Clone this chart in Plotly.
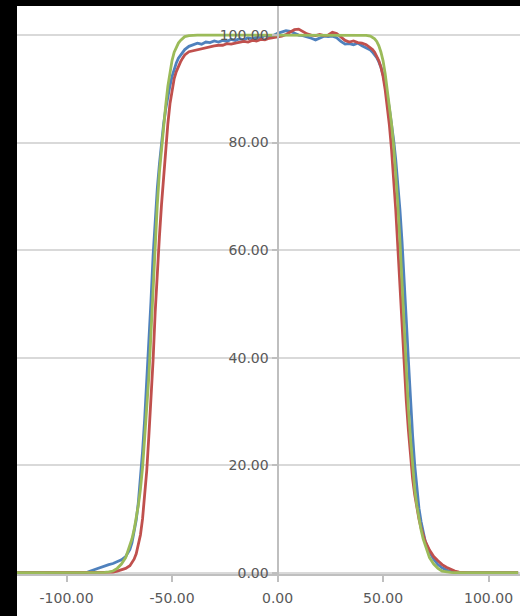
import plotly.graph_objects as go

# sample positions (mm)
x = [-124, -120, -116, -112, -108, -104, -100, -96, -92,
     -90, -88, -86, -84, -82, -80, -78, -76, -74, -72,
     -70, -69, -68, -67, -66, -65, -64, -63, -62, -61, -60, -59, -58, -57, -56, -55, -54, -53, -52, -51, -50, -49, -48, -47, -46, -45,
     -44, -42, -40, -38, -36, -34, -32, -30, -28, -26, -24, -22, -20, -18, -16, -14, -12, -10, -8, -6, -4, -2,
     0, 2, 4, 6, 8, 10, 12, 14, 16, 18, 20, 22, 24, 26, 28, 30, 32, 34, 36, 38, 40, 42,
     44, 45, 46, 47, 48, 49, 50, 51, 52, 53, 54, 55, 56, 57, 58, 59, 60, 61, 62, 63, 64, 65, 66, 67, 68, 69,
     70, 72, 74, 76, 78, 80, 82, 84, 86, 88,
     90, 94, 98, 102, 106, 110, 114]

blue = [0, 0, 0, 0, 0, 0, 0, 0, 0,
        0.1, 0.4, 0.7, 1.0, 1.3, 1.5, 1.7, 2.0, 2.4, 3.0,
        4.3, 5.6, 7.4, 9.8, 13.0, 17.5, 22.5, 28.5, 35.5, 43.0, 50.5, 59.0, 66.0, 71.5, 76.0, 80.2, 83.5, 86.3, 88.6, 90.6, 92.3, 93.7, 94.8, 95.7, 96.3, 96.9,
        97.3, 97.9, 98.2, 98.5, 98.3, 98.7, 98.6, 98.9, 98.7, 99.0, 98.8, 99.2, 99.0, 99.3, 99.1, 99.5, 99.3, 99.6, 99.5, 99.9, 99.7, 99.9,
        100.3, 100.6, 100.8, 100.7, 100.3, 100.0, 99.9, 99.7, 99.4, 99.1, 99.4, 99.8, 99.7, 99.8, 99.5, 98.8, 98.3, 98.4, 98.2, 98.5, 98.0, 97.6,
        97.2, 96.8, 96.4, 95.8, 95.0, 94.0, 92.6, 90.8, 88.8, 86.3, 83.6, 80.5, 76.8, 72.5, 67.5, 61.5, 55.0, 47.0, 39.5, 32.0, 25.5, 20.0, 15.5, 12.0, 9.5, 7.5,
        5.8, 3.8, 2.5, 1.5, 0.9, 0.5, 0.2, 0.1, 0, 0,
        0, 0, 0, 0, 0, 0, 0]

red = [0, 0, 0, 0, 0, 0, 0, 0, 0,
       0, 0, 0, 0, 0, 0.05, 0.1, 0.3, 0.5, 0.8,
       1.3, 1.8, 2.5, 3.5, 5.0, 7.0, 10.0, 14.0, 19.0, 25.5, 32.0, 39.5, 48.5, 56.5, 62.5, 68.5, 74.0, 79.0, 83.5, 87.2, 90.0, 91.9, 93.2, 94.2, 95.0, 95.7,
       96.3, 96.9, 97.1, 97.2, 97.5, 97.6, 97.9, 98.0, 98.1, 98.1, 98.4, 98.3, 98.5, 98.6, 98.8, 98.7, 99.0, 98.9, 99.2, 99.1, 99.4, 99.5,
       99.6, 99.8, 100.1, 100.5, 101.0, 101.1, 100.6, 100.2, 100.0, 99.9, 100.1, 99.9, 100.0, 100.5, 100.3, 99.6, 99.0, 98.7, 98.9, 98.6, 98.5, 98.2,
       97.7, 97.3, 96.8, 96.1, 95.2, 94.0, 92.3, 89.8, 86.8, 83.2, 78.8, 73.8, 67.5, 60.5, 53.0, 45.5, 38.5, 32.0, 26.5, 21.5, 17.5, 14.5, 12.0, 10.0, 8.3, 7.0,
       5.8, 4.2, 3.0, 2.2, 1.5, 1.0, 0.6, 0.3, 0.1, 0,
       0, 0, 0, 0, 0, 0, 0]

green = [0, 0, 0, 0, 0, 0, 0, 0, 0,
         0, 0, 0, 0, 0.05, 0.15, 0.3, 0.8, 1.6, 2.8,
         5.0, 6.3, 8.0, 10.0, 12.5, 15.5, 19.5, 25.0, 30.5, 36.5, 44.5, 53.3, 61.6, 68.5, 74.5, 79.0, 83.0, 87.0, 90.5, 93.3, 95.3, 96.8, 97.8, 98.5, 99.0, 99.4,
         99.7, 99.9, 100, 100, 100, 100, 100, 100, 100, 100, 100, 100, 100, 100, 100, 100, 100, 100, 100, 100, 100, 100,
         100, 100, 100, 100, 100, 100, 100, 100, 100, 100, 100, 100, 100, 100, 100, 100, 100, 100, 100, 100, 100, 99.95,
         99.8, 99.6, 99.3, 98.8, 98.0, 96.8, 95.2, 92.8, 90.0, 87.0, 83.5, 79.5, 74.5, 68.5, 61.6, 53.3, 44.5, 36.5, 30.5, 25.0, 19.5, 15.5, 12.5, 10.0, 8.0, 6.3,
         5.0, 2.8, 1.6, 0.8, 0.3, 0.15, 0.05, 0, 0, 0,
         0, 0, 0, 0, 0, 0, 0]

x_ticks = [-100, -50, 0, 50, 100]
x_tick_labels = ["-100.00", "-50.00", "0.00", "50.00", "100.00"]
y_ticks = [0, 20, 40, 60, 80, 100]
y_tick_labels = ["0.00", "20.00", "40.00", "60.00", "80.00", "100.00"]

series = [("Series1", blue, "#4F81BD"), ("Series2", red, "#C0504D"), ("Series3", green, "#9BBB59")]

fig = go.Figure()
for name, ys, col in series:
    fig.add_trace(go.Scatter(x=x, y=ys, mode="lines", name=name,
                             line=dict(color=col, width=2.8)))

W, H = 520, 616
ml, mr, mt, mb = 17, 0, 6, 42
pw = W - ml - mr
ph = H - mt - mb

fig.update_layout(
    width=W, height=H,
    margin=dict(l=ml, r=mr, t=mt, b=mb, pad=0),
    paper_bgcolor="white", plot_bgcolor="white",
    showlegend=False,
    font=dict(family="DejaVu Sans", size=14, color="#595959"),
    xaxis=dict(range=[-123.5, 114.9], tickvals=x_ticks, ticktext=x_tick_labels,
               ticks="outside", ticklen=6, tickcolor="#bfbfbf", tickwidth=1.5,
               showline=True, linecolor="#bfbfbf", linewidth=1.5,
               showgrid=False, zeroline=False, ticklabelstandoff=4),
    yaxis=dict(range=[-0.25, 105.4], tickvals=y_ticks, ticktext=y_tick_labels,
               ticks="outside", ticklen=5, tickcolor="#bfbfbf", tickwidth=1.5,
               showline=True, linecolor="#bfbfbf", linewidth=2,
               showgrid=True, gridcolor="#d9d9d9", gridwidth=1.5,
               zeroline=False, anchor="free", position=(277.5 - ml) / pw),
    shapes=[
        dict(type="rect", xref="paper", yref="paper", x0=-0.1, x1=0, y0=-0.2, y1=1.2,
             fillcolor="black", line=dict(width=0), layer="above"),
        dict(type="rect", xref="paper", yref="paper", x0=-0.1, x1=1.1, y0=1, y1=1.2,
             fillcolor="black", line=dict(width=0), layer="above"),
    ],
)

fig.write_html("out.html")
